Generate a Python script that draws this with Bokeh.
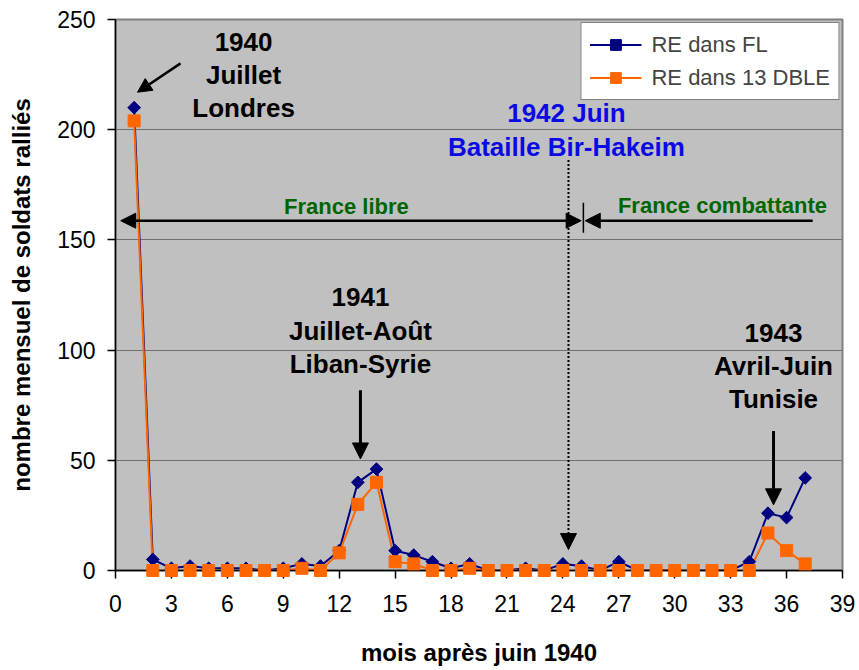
from math import pi
from bokeh.plotting import figure
from bokeh.models import (Range1d, FixedTicker, Legend, LegendItem, Arrow,
                          NormalHead, BoxAnnotation)
from bokeh.core.properties import value
from bokeh.embed import file_html
from bokeh.resources import INLINE

# ---- data ----
months = list(range(1, 38))
re_fl = [210, 5, 1, 2, 1, 1, 1, 0, 1, 3,
         2, 9, 40, 46, 9, 7, 4, 1, 3, 0,
         0, 1, 0, 3, 2, 0, 4, 0, 0, 0,
         0, 0, 0, 4, 26, 24, 42]
re_dble = [204, 0, 0, 0, 0, 0, 0, 0, 0, 1,
           0, 8, 30, 40, 4, 3, 0, 0, 1, 0,
           0, 0, 0, 0, 0, 0, 0, 0, 0, 0,
           0, 0, 0, 0, 17, 9, 3]
series_names = ["RE dans FL", "RE dans 13 DBLE"]
x_ticks = list(range(0, 40, 3))
y_ticks = [0, 50, 100, 150, 200, 250]
x_title = "mois après juin 1940"
y_title = "nombre mensuel de soldats ralliés"

# annotation texts (black, blue, green)
black_texts = ["1940", "Juillet", "Londres",
               "1941", "Juillet-Août", "Liban-Syrie",
               "1943", "Avril-Juin", "Tunisie"]
black_x = [6.87, 6.87, 6.87, 13.14, 13.14, 13.14, 35.3, 35.3, 35.3]
black_y = [239.6, 224.7, 209.8, 123.9, 108.5, 93.6, 107.6, 92.7, 77.8]
blue_texts = ["1942 Juin", "Bataille Bir-Hakeim"]
blue_x = [24.19, 24.19]
blue_y = [207.5, 192.1]
green_texts = ["France libre", "France combattante"]
green_x = [12.39, 32.56]
green_y = [165.0, 165.5]

FONT = "Liberation Sans"

p = figure(width=855, height=668, x_range=Range1d(0, 39), y_range=Range1d(0, 250),
           output_backend="svg", toolbar_location=None,
           min_border_left=115, min_border_right=13, min_border_top=19,
           min_border_bottom=96)
p.background_fill_color = "#c0c0c0"
p.border_fill_color = "white"
p.outline_line_color = "#808080"
p.outline_line_width = 2

p.xgrid.visible = False
p.ygrid.ticker = FixedTicker(ticks=y_ticks)
p.ygrid.grid_line_color = "#707070"
p.ygrid.grid_line_width = 1

for ax, ticks in ((p.xaxis[0], x_ticks), (p.yaxis[0], y_ticks)):
    ax.ticker = FixedTicker(ticks=ticks)
    ax.major_tick_in = 0
    ax.major_tick_out = 8
    ax.minor_tick_in = 0
    ax.minor_tick_out = 0
    ax.axis_line_color = "black"
    ax.axis_line_width = 1.5
    ax.major_tick_line_color = "black"
    ax.major_tick_line_width = 1.5
    ax.major_label_text_font = FONT
    ax.major_label_text_font_size = "23px"
    ax.major_label_text_color = "black"
    ax.axis_label_text_font = FONT
    ax.axis_label_text_font_size = "24px"
    ax.axis_label_text_font_style = "bold"
    ax.axis_label_text_color = "black"

p.xaxis.axis_label = x_title
p.yaxis.axis_label = y_title
p.xaxis.major_label_standoff = 16
p.xaxis.axis_label_standoff = 24
p.yaxis.major_label_standoff = 12
p.yaxis.axis_label_standoff = 19

# ---- series ----
l1 = p.line(months, re_fl, line_color="#000080", line_width=2)
s1 = p.scatter(months, re_fl, marker="square", angle=pi / 4, size=9,
               fill_color="#000080", line_color="#000080", level="overlay")
l2 = p.line(months, re_dble, line_color="#ff6600", line_width=2)
s2 = p.scatter(months, re_dble, marker="square", size=12,
               fill_color="#ff6600", line_color="#ff6600", level="overlay")

legend = Legend(items=[LegendItem(label=series_names[0], renderers=[l1, s1]),
                       LegendItem(label=series_names[1], renderers=[l2, s2])],
                location="top_right")
legend.border_line_color = "black"
legend.border_line_width = 1
legend.background_fill_color = "white"
legend.background_fill_alpha = 1
legend.label_text_font = FONT
legend.label_text_font_size = "22px"
legend.glyph_width = 52
legend.glyph_height = 27
legend.label_height = 27
legend.spacing = 6
legend.padding = 8
legend.margin = 3
legend.label_standoff = 10
p.add_layout(legend)

# ---- texts ----
p.text(x=black_x, y=black_y, text=black_texts, text_align="center",
       text_baseline="middle", text_font=value(FONT), text_font_style="bold",
       text_font_size="26px", text_color="black")
p.text(x=blue_x, y=blue_y, text=blue_texts, text_align="center",
       text_baseline="middle", text_font=value(FONT), text_font_style="bold",
       text_font_size="26px", text_color="#0a0ae6")
p.text(x=green_x, y=green_y, text=green_texts, text_align="center",
       text_baseline="middle", text_font=value(FONT), text_font_style="bold",
       text_font_size="22px", text_color="#006600")

# ---- arrows ----
def head(sz=14):
    return NormalHead(size=sz, fill_color="black", line_color="black", line_width=1)

# Londres
p.add_layout(Arrow(end=head(14), x_start=3.49, y_start=230.1, x_end=1.18, y_end=217.0,
                   line_width=2.5, line_color="black"))
# Liban-Syrie
p.add_layout(Arrow(end=head(16), x_start=13.14, y_start=81.8, x_end=13.14, y_end=50.6,
                   line_width=3, line_color="black"))
# Tunisie
p.add_layout(Arrow(end=head(16), x_start=35.3, y_start=63.3, x_end=35.3, y_end=29.8,
                   line_width=3, line_color="black"))
# Bir-Hakeim dotted
p.add_layout(Arrow(end=head(16), x_start=24.3, y_start=186.3, x_end=24.3, y_end=9.5,
                   line_width=2, line_color="black", line_dash="2 2"))
# France libre double arrow
p.add_layout(Arrow(start=head(15), end=head(15), x_start=0.28, y_start=158.7,
                   x_end=24.98, y_end=158.7, line_width=2.5, line_color="black"))
# separator
p.add_layout(Arrow(end=None, x_start=25.1, y_start=166.8, x_end=25.1, y_end=153.3,
                   line_width=1.5, line_color="black"))
# France combattante arrow
p.add_layout(Arrow(end=head(15), x_start=37.4, y_start=158.7, x_end=25.2, y_end=158.7,
                   line_width=2.5, line_color="black"))

# thin purple rule along the top edge of the page
p.add_layout(BoxAnnotation(left=0, right=845, top=0, bottom=2,
                           left_units="canvas", right_units="canvas",
                           top_units="canvas", bottom_units="canvas",
                           fill_color="#7030a0", fill_alpha=1, line_alpha=0))

open("out.html", "w").write(file_html(p, INLINE))
